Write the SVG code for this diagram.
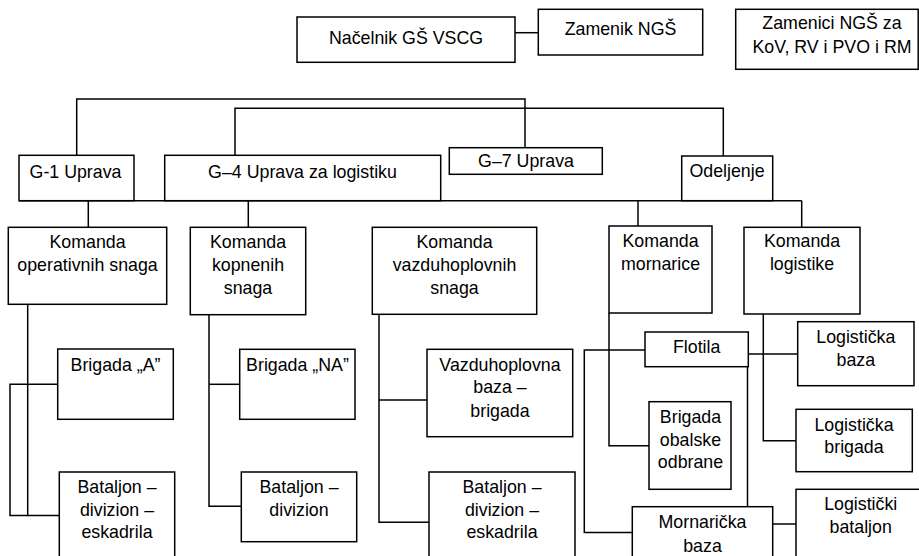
<svg xmlns="http://www.w3.org/2000/svg" width="919" height="556" viewBox="0 0 919 556">
<style>
rect{fill:#fff;stroke:#000;stroke-width:1.5}
path{fill:none;stroke:#000;stroke-width:1.5}
text{font-family:"Liberation Sans",Arial,sans-serif;font-size:17.8px;fill:#000;text-anchor:middle}
</style>
<rect x="0" y="0" width="919" height="556" style="stroke:none"/>
<g id="connectors">
<path d="M515 32.7H538.3"/>
<path d="M76.7 155.3V99H525V147.7"/>
<path d="M235 155.3V108.3H723.3V156"/>
<path d="M19 200.7H801.7"/>
<path d="M88.3 200.7V227.3"/>
<path d="M248.3 200.7V227.3"/>
<path d="M638 200.7V226"/>
<path d="M801.7 200.7V227.3"/>
<path d="M27.7 304.3V515.5H59.3"/>
<path d="M57.7 384.3H10V515.5H27.7"/>
<path d="M209 314.7V506.3H241.3"/>
<path d="M209 384.3H239.7"/>
<path d="M379 314.3V522.3H429"/>
<path d="M379 400H427"/>
<path d="M609 313V445.7H649"/>
<path d="M645 350H584.3V532.5H632.3"/>
<path d="M747.5 366.7V506.7"/>
<path d="M763.3 314V440.7H796"/>
<path d="M748.3 354H797.7"/>
<path d="M772.7 524H796"/>
</g>
<g id="nacelnik"><rect x="297" y="17" width="218" height="45.3"/><text x="406" y="44.3">Načelnik GŠ VSCG</text></g>
<g id="zamenik"><rect x="538.3" y="9.3" width="164.4" height="45.7"/><text x="620.5" y="35">Zamenik NGŠ</text></g>
<g id="zamenici"><rect x="735.7" y="9.3" width="182.5" height="60"/><text x="832" y="29.3">Zamenici NGŠ za</text><text x="832" y="52.7">KoV, RV i PVO i RM</text></g>
<g id="g1"><rect x="19" y="155.3" width="115" height="45.4"/><text x="75.5" y="177.7">G-1 Uprava</text></g>
<g id="g4"><rect x="164.7" y="155.3" width="276" height="45.4"/><text x="302.5" y="177.7">G–4 Uprava za logistiku</text></g>
<g id="g7"><rect x="449.3" y="147.7" width="153" height="26.6"/><text x="526" y="166.7">G–7 Uprava</text></g>
<g id="odeljenje"><rect x="681.7" y="156" width="91" height="44.7"/><text x="727" y="177.3">Odeljenje</text></g>
<g id="kom-oper"><rect x="8.3" y="227.3" width="158.4" height="77"/><text x="87.5" y="248.3">Komanda</text><text x="87.5" y="270.7">operativnih snaga</text></g>
<g id="kom-kop"><rect x="190.3" y="227.3" width="115.4" height="87.4"/><text x="248" y="248.3">Komanda</text><text x="248" y="271">kopnenih</text><text x="248" y="293.7">snaga</text></g>
<g id="kom-vaz"><rect x="372.3" y="227.3" width="164.4" height="87"/><text x="454.5" y="248.3">Komanda</text><text x="454.5" y="271">vazduhoplovnih</text><text x="454.5" y="293.7">snaga</text></g>
<g id="kom-morn"><rect x="609" y="226" width="103" height="87"/><text x="660.5" y="246.7">Komanda</text><text x="660.5" y="270">mornarice</text></g>
<g id="kom-log"><rect x="744" y="227.3" width="116" height="86.7"/><text x="802" y="247.3">Komanda</text><text x="802" y="270">logistike</text></g>
<g id="brigada-a"><rect x="57.7" y="349" width="115.6" height="70.3"/><text x="115.5" y="371">Brigada „A”</text></g>
<g id="bataljon-1"><rect x="59.3" y="472" width="115.4" height="100"/><text x="117" y="493.3">Bataljon –</text><text x="117" y="516">divizion –</text><text x="117" y="538.3">eskadrila</text></g>
<g id="brigada-na"><rect x="239.7" y="349.3" width="115.3" height="70"/><text x="297.5" y="371">Brigada „NA”</text></g>
<g id="bataljon-2"><rect x="241.3" y="472" width="115.4" height="69.7"/><text x="299" y="493.3">Bataljon –</text><text x="299" y="516">divizion</text></g>
<g id="vaz-baza"><rect x="427" y="349.3" width="145.7" height="87.4"/><text x="500" y="371">Vazduhoplovna</text><text x="500" y="393.3">baza –</text><text x="500" y="416.7">brigada</text></g>
<g id="bataljon-3"><rect x="429" y="472" width="146" height="100"/><text x="502" y="493.3">Bataljon –</text><text x="502" y="516">divizion –</text><text x="502" y="538.3">eskadrila</text></g>
<g id="flotila"><rect x="645" y="332" width="103.3" height="34.7"/><text x="696.7" y="352.7">Flotila</text></g>
<g id="brigada-obalske"><rect x="649" y="401.7" width="82" height="87.6"/><text x="690.5" y="423.3">Brigada</text><text x="690.5" y="446">obalske</text><text x="690.5" y="468.3">odbrane</text></g>
<g id="mornaricka-baza"><rect x="632.3" y="506.7" width="140.4" height="70"/><text x="702.5" y="528.3">Mornarička</text><text x="702.5" y="551.7">baza</text></g>
<g id="log-baza"><rect x="797.7" y="321.7" width="116.3" height="64"/><text x="855.8" y="342.7">Logistička</text><text x="855.8" y="365.7">baza</text></g>
<g id="log-brigada"><rect x="796" y="409.3" width="116.3" height="62.4"/><text x="854" y="430.7">Logistička</text><text x="854" y="453.3">brigada</text></g>
<g id="log-bataljon"><rect x="796" y="489.3" width="130" height="80"/><text x="860.7" y="510">Logistički</text><text x="860.7" y="533.3">bataljon</text></g>
</svg>
